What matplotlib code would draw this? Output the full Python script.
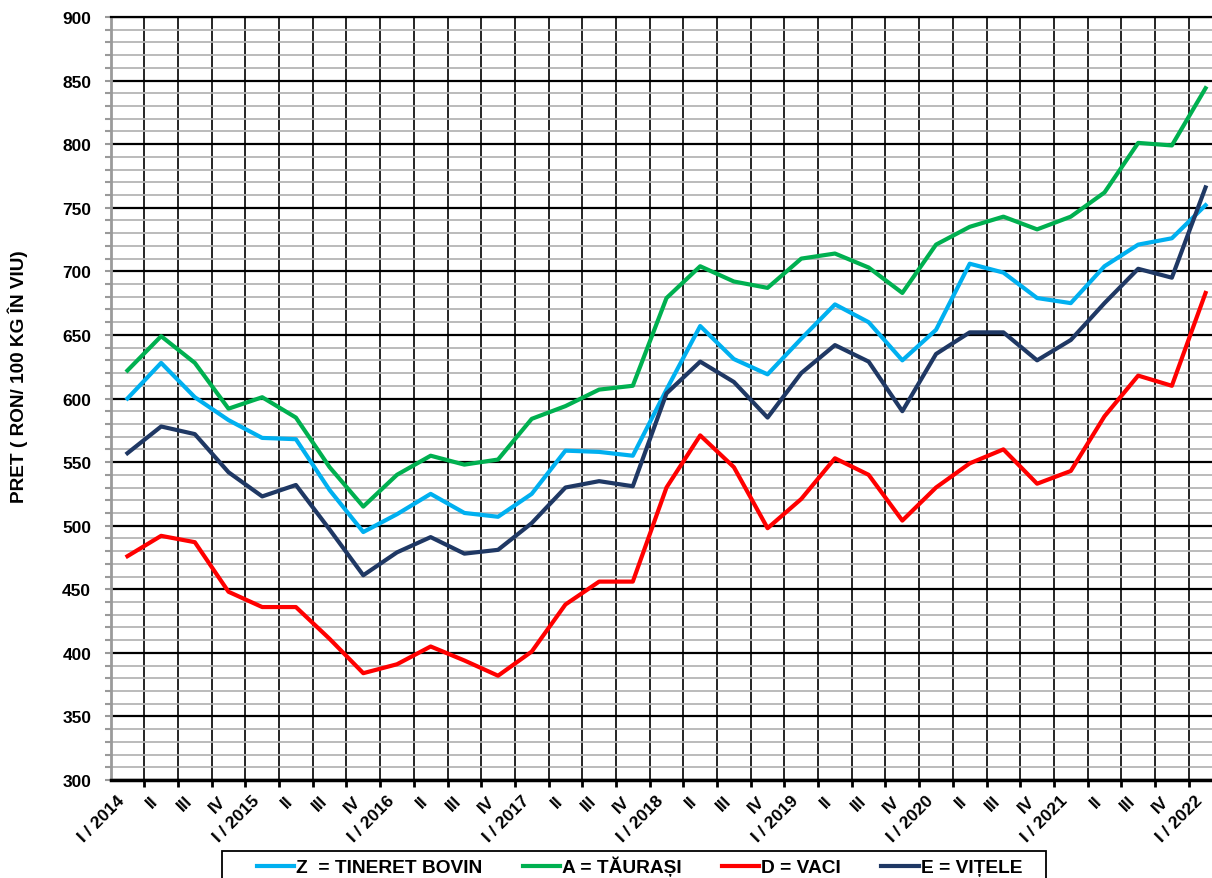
import matplotlib
matplotlib.use("Agg")
import matplotlib.pyplot as plt
from matplotlib.ticker import MultipleLocator, FixedLocator
from matplotlib.patches import Rectangle

plt.rcParams['font.family'] = ['Liberation Sans', 'DejaVu Sans']
plt.rcParams['font.weight'] = 'bold'

# trimestre I/2014 ... I/2022
years = [2014, 2015, 2016, 2017, 2018, 2019, 2020, 2021, 2022]
quarters = ["I", "II", "III", "IV"]
labels = []
for y in years:
    for q in quarters:
        if q == "I":
            labels.append(f"I / {y}")
        else:
            labels.append(q)
        if y == 2022:
            break

# preturi RON / 100 kg in viu
tineret_bovin = [600, 628, 601, 583, 569, 568, 528, 495, 509, 525, 510, 507,
                 525, 559, 558, 555, 607, 657, 631, 619, 647, 674, 660, 630,
                 654, 706, 699, 679, 675, 704, 721, 726, 752]
taurasi = [622, 649, 628, 592, 601, 585, 546, 515, 540, 555, 548, 552,
           584, 594, 607, 610, 679, 704, 692, 687, 710, 714, 703, 683,
           721, 735, 743, 733, 743, 762, 801, 799, 844]
vaci = [476, 492, 487, 448, 436, 436, 411, 384, 391, 405, 394, 382,
        401, 438, 456, 456, 530, 571, 546, 498, 521, 553, 540, 504,
        530, 549, 560, 533, 543, 586, 618, 610, 683]
vitele = [557, 578, 572, 542, 523, 532, 497, 461, 479, 491, 478, 481,
          502, 530, 535, 531, 604, 629, 613, 585, 620, 642, 629, 590,
          635, 652, 652, 630, 646, 675, 702, 695, 766]

x = list(range(len(labels)))

W, H = 1212, 879
fig = plt.figure(figsize=(W / 100, H / 100), dpi=100)
ax = fig.add_axes([110.6 / W, 98 / H, 1111.8 / W, 763 / H])

ax.plot(x, tineret_bovin, color="#00B0F0", lw=3, label="Z  = TINERET BOVIN", zorder=5)
ax.plot(x, taurasi, color="#00B050", lw=3, label="A = TĂURAȘI", zorder=5)
ax.plot(x, vaci, color="#FF0000", lw=3, label="D = VACI", zorder=5)
ax.plot(x, vitele, color="#1F3864", lw=3, label="E = VIȚELE", zorder=5)

ax.set_xlim(-0.5, len(labels) - 0.5)
ax.set_ylim(300, 900)

ax.yaxis.set_major_locator(MultipleLocator(50))
ax.yaxis.set_minor_locator(MultipleLocator(10))
ax.xaxis.set_major_locator(FixedLocator(x))
ax.xaxis.set_minor_locator(FixedLocator([i + 0.5 for i in range(len(labels) - 1)]))
ax.set_xticklabels(labels, rotation=45, ha="right", fontsize=12.5, fontweight="bold")
for t in ax.get_yticklabels():
    t.set_fontsize(12.5)
    t.set_fontweight("bold")

ax.tick_params(axis="x", which="major", length=0, pad=9)
ax.tick_params(axis="x", which="minor", length=5, width=2, color="black", direction="out")
ax.tick_params(axis="y", which="both", length=4, width=1.5, color="#9a9a9a", pad=10)

ax.yaxis.grid(True, which="minor", color="#b5b5b5", lw=1.3)
ax.yaxis.grid(True, which="major", color="black", lw=1.6)
ax.xaxis.grid(True, which="minor", color="black", lw=1.2)
ax.set_axisbelow(True)

ax.spines["left"].set_color("#9a9a9a")
ax.spines["left"].set_linewidth(2)
ax.spines["bottom"].set_color("black")
ax.spines["bottom"].set_linewidth(2.5)
ax.spines["top"].set_color("black")
ax.spines["top"].set_linewidth(1.6)
ax.spines["right"].set_visible(False)

ax.set_ylabel("PRET ( RON/ 100 KG ÎN VIU)", fontsize=13.7, fontweight="bold")
ax.yaxis.set_label_coords(-0.074, 0.53)

# cadrul legendei (taiat jos, ca in original)
fig.patches.append(Rectangle((222 / W, -0.02), (1046 - 222) / W, 0.02 + (879 - 852) / H,
                             transform=fig.transFigure, fill=False,
                             edgecolor="black", lw=1.3))
fig.legend(loc="center left", bbox_to_anchor=(257 / W, 1 - 867 / H),
           ncol=4, frameon=False, borderpad=0, borderaxespad=0,
           handlelength=1.95, handletextpad=0.1, columnspacing=2.1,
           prop={"weight": "bold", "size": 13.8})

fig.savefig("out.png", dpi=100)
